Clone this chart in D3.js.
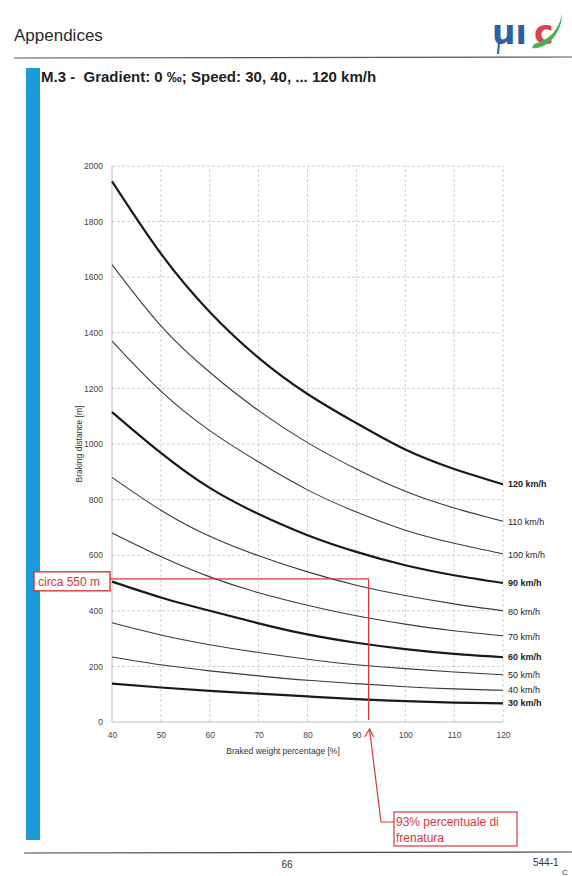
<!DOCTYPE html>
<html>
<head>
<meta charset="utf-8">
<script src="https://cdn.jsdelivr.net/npm/d3@7"></script>
<style>
body { margin: 0; background: #fff; }
svg { display: block; font-family: "Liberation Sans", Arial, sans-serif; }
</style>
</head>
<body>
<svg id="page" width="572" height="876"></svg>
<script>
// braked weight percentage [%]
var brakedPct = [40, 50, 60, 70, 80, 90, 100, 110, 120];
var xTicks = [40, 50, 60, 70, 80, 90, 100, 110, 120];
var yTicks = [0, 200, 400, 600, 800, 1000, 1200, 1400, 1600, 1800, 2000];

// braking distance [m] per speed
var d120 = [1945, 1685, 1475, 1310, 1180, 1075, 980, 910, 855];
var d110 = [1645, 1425, 1258, 1120, 1005, 910, 830, 770, 722];
var d100 = [1370, 1190, 1048, 935, 835, 755, 690, 643, 605];
var d90 = [1115, 968, 842, 748, 672, 612, 564, 528, 500];
var d80 = [880, 762, 668, 598, 540, 492, 455, 425, 400];
var d70 = [680, 595, 522, 465, 420, 382, 352, 328, 310];
var d60 = [505, 448, 400, 355, 315, 285, 262, 245, 233];
var d50 = [357, 313, 278, 250, 226, 206, 192, 180, 170];
var d40 = [234, 206, 184, 166, 150, 138, 127, 119, 114];
var d30 = [138, 124, 112, 102, 92, 82, 75, 70, 67];

var speeds = [120, 110, 100, 90, 80, 70, 60, 50, 40, 30];
var distances = [d120, d110, d100, d90, d80, d70, d60, d50, d40, d30];
var labelDy = [0, 1, 1, 0, 1, 1, 0, 0, 0, 0];

// annotation values
var pickPct = 92.5;
var pickDist = 515;

var svg = d3.select("#page");

var x = d3.scaleLinear().domain([40, 120]).range([112, 503]);
var y = d3.scaleLinear().domain([0, 2000]).range([722, 166]);

// page header
svg.append("text")
    .attr("x", 14).attr("y", 41)
    .style("font-size", "17px")
    .style("fill", "#2b2b2b")
    .text("Appendices");

var logo = svg.append("g").attr("transform", "translate(492,44)");
logo.append("text")
    .attr("x", 0).attr("y", 0)
    .style("font-size", "33px").style("font-weight", "bold")
    .style("font-family", "'DejaVu Sans', sans-serif")
    .style("fill", "#2d5fa6")
    .text("uı");
logo.append("text")
    .attr("x", 42).attr("y", 0)
    .style("font-size", "33px").style("font-weight", "bold")
    .style("font-family", "'DejaVu Sans', sans-serif")
    .style("fill", "#d8424a")
    .text("c");
logo.append("path")
    .attr("d", "M40,4 C54,6 70,-10 70,-30 C67,-15 58,-4 42,0")
    .style("fill", "#4caf50");
logo.append("path")
    .attr("d", "M7,-2 L6,10")
    .style("stroke", "#2d5fa6").style("stroke-width", 2);

svg.append("line")
    .attr("x1", 14).attr("x2", 572).attr("y1", 58).attr("y2", 57)
    .style("stroke", "#555").style("stroke-width", 1.2);

svg.append("rect")
    .attr("x", 26).attr("y", 68).attr("width", 14).attr("height", 772)
    .style("fill", "#1d9ad8");

svg.append("text")
    .attr("x", 41).attr("y", 82)
    .attr("xml:space", "preserve")
    .style("white-space", "pre")
    .style("font-size", "15px").style("font-weight", "bold")
    .style("fill", "#222")
    .text("M.3 -  Gradient: 0 \u2030; Speed: 30, 40, ... 120 km/h");

// grid
var grid = svg.append("g").attr("class", "grid");
grid.selectAll("line.h").data(yTicks).enter().append("line")
    .attr("class", "h")
    .attr("x1", x(40)).attr("x2", x(120))
    .attr("y1", function(d) { return y(d); })
    .attr("y2", function(d) { return y(d); })
    .style("stroke", function(d) { return d == 0 ? "#aaa" : "#c4c4c4"; })
    .style("stroke-dasharray", function(d) { return d == 0 ? null : "3,2"; })
    .style("stroke-width", 0.8);
grid.selectAll("line.v").data(xTicks).enter().append("line")
    .attr("class", "v")
    .attr("y1", y(0)).attr("y2", y(2000))
    .attr("x1", function(d) { return x(d); })
    .attr("x2", function(d) { return x(d); })
    .style("stroke", function(d) { return d == 40 ? "#aaa" : "#c4c4c4"; })
    .style("stroke-dasharray", function(d) { return d == 40 ? null : "3,2"; })
    .style("stroke-width", 0.8);

// axes
var yAxis = svg.append("g")
    .attr("transform", "translate(" + (x(40) - 9) + ",0)")
    .call(d3.axisLeft(y).tickValues(yTicks).tickFormat(d3.format("d"))
	  .tickSize(0).tickPadding(0));
var xAxis = svg.append("g")
    .attr("transform", "translate(0," + (y(0) + 6) + ")")
    .call(d3.axisBottom(x).tickValues(xTicks).tickSize(0).tickPadding(4));
[yAxis, xAxis].forEach(function(a) {
    a.select(".domain").remove();
    a.selectAll("text")
	.style("font-size", "8.5px")
	.style("fill", "#444")
	.style("font-family", "'Liberation Sans', Arial, sans-serif");
});

svg.append("text")
    .attr("transform", "translate(82," + y(1000) + ") rotate(-90)")
    .attr("text-anchor", "middle")
    .style("font-size", "8.5px").style("fill", "#333")
    .text("Braking distance [m]");
svg.append("text")
    .attr("x", x(75)).attr("y", 754)
    .attr("text-anchor", "middle")
    .style("font-size", "8.5px").style("fill", "#333")
    .text("Braked weight percentage [%]");

// curves
var line = d3.line()
    .x(function(d) { return x(d[0]); })
    .y(function(d) { return y(d[1]); })
    .curve(d3.curveNatural);

var series = speeds.map(function(s, i) {
    return {speed: s,
	    thick: s % 30 == 0,
	    pts: d3.zip(brakedPct, distances[i]),
	    dy: labelDy[i]};
});

svg.append("g").selectAll("path").data(series).enter().append("path")
    .attr("d", function(d) { return line(d.pts); })
    .style("fill", "none")
    .style("stroke", function(d) { return d.thick ? "#1a1a1a" : "#3a3a3a"; })
    .style("stroke-width", function(d) { return d.thick ? 2.2 : 1.1; });

svg.append("g").selectAll("text").data(series).enter().append("text")
    .attr("x", x(120) + 5)
    .attr("y", function(d) { return y(d.pts[d.pts.length - 1][1]) + 3 + d.dy; })
    .style("font-size", "9px")
    .style("font-weight", function(d) { return d.thick ? "bold" : "normal"; })
    .style("fill", "#222")
    .text(function(d) { return d.speed + " km/h"; });

// red annotations
var red = "#d9363e";
var ann = svg.append("g");
ann.append("path")
    .attr("d", "M" + 110 + "," + y(pickDist) + "H" + x(pickPct) + "V" + (y(0) - 2))
    .style("fill", "none").style("stroke", red).style("stroke-width", 1.2);
ann.append("rect")
    .attr("x", 34).attr("y", y(pickDist) - 7).attr("width", 76).attr("height", 19)
    .style("fill", "#fff").style("stroke", red).style("stroke-width", 1.4);
ann.append("text")
    .attr("x", 38).attr("y", y(pickDist) + 7)
    .style("font-size", "12px").style("fill", red)
    .text("circa 550 m");

ann.append("path")
    .attr("d", "M394,822 H381 L" + (x(pickPct) + 1) + "," + (y(0) + 8))
    .style("fill", "none").style("stroke", red).style("stroke-width", 1.2);
ann.append("path")
    .attr("d", "M" + (x(pickPct) - 4) + "," + (y(0) + 15) + " L" + (x(pickPct) + 1) + "," + (y(0) + 7) +
	  " L" + (x(pickPct) + 5) + "," + (y(0) + 15))
    .style("fill", "none").style("stroke", red).style("stroke-width", 1.2);
ann.append("rect")
    .attr("x", 394).attr("y", 812).attr("width", 123).attr("height", 34)
    .style("fill", "#fff").style("stroke", red).style("stroke-width", 1.2);
ann.append("text")
    .attr("x", 396).attr("y", 826)
    .style("font-size", "12px").style("fill", red)
    .text("93% percentuale di");
ann.append("text")
    .attr("x", 396).attr("y", 842)
    .style("font-size", "12px").style("fill", red)
    .text("frenatura");

// footer
svg.append("line")
    .attr("x1", 24).attr("x2", 572).attr("y1", 853).attr("y2", 852)
    .style("stroke", "#444").style("stroke-width", 1.2);
svg.append("text")
    .attr("x", 287).attr("y", 868).attr("text-anchor", "middle")
    .style("font-size", "10px").style("fill", "#333")
    .text("66");
svg.append("text")
    .attr("x", 533).attr("y", 866)
    .style("font-size", "10px").style("fill", "#333")
    .text("544-1");
svg.append("text")
    .attr("x", 562).attr("y", 875)
    .style("font-size", "8px").style("fill", "#333")
    .text("C");
</script>
</body>
</html>
